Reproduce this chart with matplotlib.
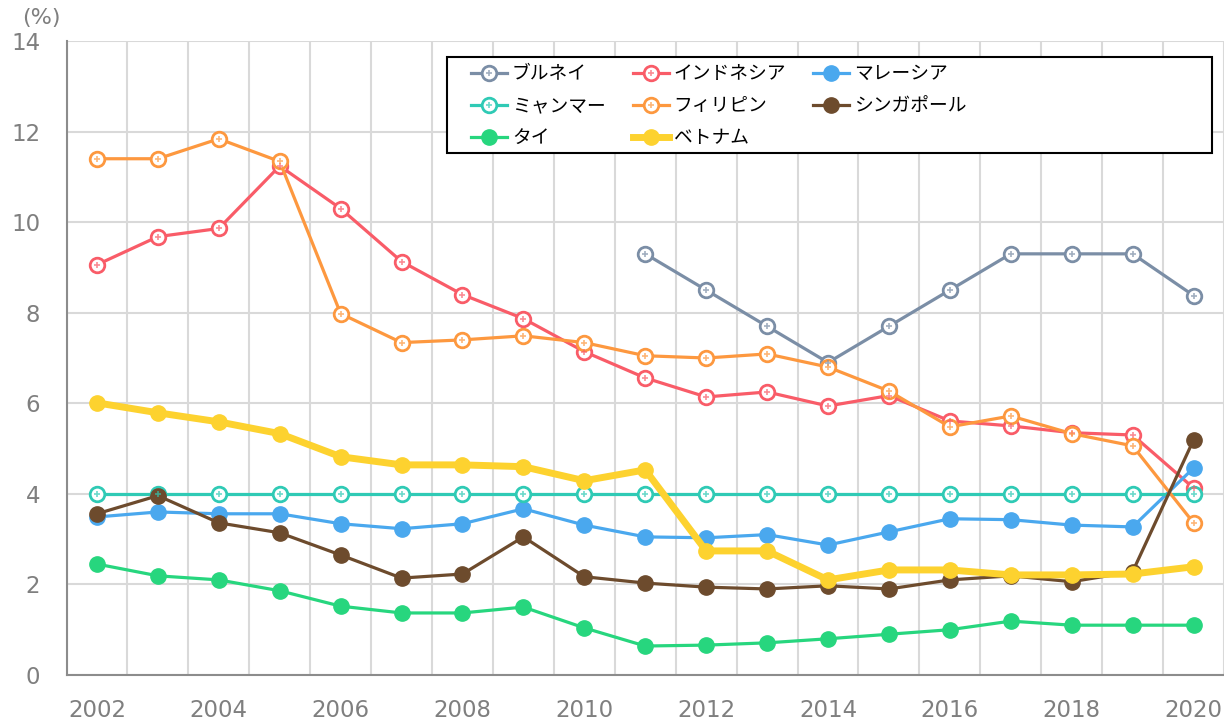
import matplotlib

matplotlib.use("Agg")
import matplotlib.pyplot as plt  # noqa: E402
import numpy as np  # noqa: E402
from matplotlib.legend_handler import HandlerTuple  # noqa: E402
from matplotlib.patches import Rectangle  # noqa: E402

years = list(range(2002, 2021))
tick_years = list(range(2002, 2021, 2))

nan = np.nan
brunei = [nan, nan, nan, nan, nan, nan, nan, nan, nan,
          9.3, 8.5, 7.7, 6.9, 7.7, 8.5, 9.3, 9.3, 9.3, 8.38]
indonesia = [9.06, 9.68, 9.86, 11.24, 10.3, 9.13, 8.4, 7.87, 7.14, 6.56,
             6.14, 6.25, 5.94, 6.17, 5.61, 5.5, 5.35, 5.3, 4.13]
malaysia = [3.49, 3.6, 3.56, 3.56, 3.34, 3.23, 3.34, 3.67, 3.31, 3.05,
            3.03, 3.1, 2.87, 3.16, 3.45, 3.43, 3.31, 3.27, 4.57]
myanmar = [4.0] * 19
philippines = [11.4, 11.4, 11.84, 11.34, 7.98, 7.34, 7.4, 7.49, 7.34, 7.05,
               7.0, 7.09, 6.8, 6.27, 5.48, 5.72, 5.33, 5.06, 3.36]
singapore = [3.56, 3.96, 3.36, 3.14, 2.65, 2.14, 2.23, 3.05, 2.17, 2.03,
             1.94, 1.9, 1.97, 1.9, 2.1, 2.19, 2.06, 2.28, 5.19]
thai = [2.45, 2.19, 2.1, 1.86, 1.52, 1.37, 1.37, 1.5, 1.04, 0.64,
        0.66, 0.71, 0.8, 0.9, 1.0, 1.19, 1.1, 1.1, 1.1]
vietnam = [6.01, 5.79, 5.59, 5.33, 4.82, 4.64, 4.64, 4.6, 4.29, 4.53,
           2.74, 2.74, 2.1, 2.32, 2.32, 2.21, 2.21, 2.23, 2.39]

# (label, values, colour, hollow marker, line width)
series = [
    ("ブルネイ", brunei, "#7b8ea6", True, 2.3),
    ("インドネシア", indonesia, "#f95c68", True, 2.3),
    ("マレーシア", malaysia, "#4aa8ee", False, 2.3),
    ("ミャンマー", myanmar, "#2fcab5", True, 2.3),
    ("フィリピン", philippines, "#fd983f", True, 2.3),
    ("シンガポール", singapore, "#6d4b2d", False, 2.3),
    ("タイ", thai, "#27d67e", False, 2.3),
    ("ベトナム", vietnam, "#fdd22f", False, 5.0),
]

GRAY = "#7f7f7f"
JP_FONT = ["Noto Sans CJK JP", "DejaVu Sans"]
W, H = 1224, 724

fig = plt.figure(figsize=(W / 100, H / 100), dpi=100)
ax = fig.add_axes([66.5 / W, 1 - 675 / H, (W - 66.5) / W, (675 - 41) / H])

x = np.arange(len(years))
handles = {}
for label, values, color, hollow, lw in series:
    y = np.array(values, dtype=float)
    if hollow:
        (line,) = ax.plot(x, y, color=color, lw=lw, marker="o", ms=10.5,
                          mfc="white", mec=color, mew=2, zorder=3)
        (dots,) = ax.plot(x, y, ls="none", marker="+", ms=5, mew=1.2,
                          color=color, alpha=0.7, zorder=4)
        handles[label] = (line, dots)
    else:
        (line,) = ax.plot(x, y, color=color, lw=lw, marker="o", ms=11,
                          mfc=color, mec=color, zorder=3)
        handles[label] = line

ax.set_xlim(-0.5, 18.475)
ax.set_ylim(0, 14)
ax.set_yticks(range(0, 15, 2))
ax.set_xticks([years.index(yr) for yr in tick_years])
ax.set_xticklabels([str(yr) for yr in tick_years])
ax.set_xticks(np.arange(-0.5, 19, 1), minor=True)

ax.grid(which="minor", axis="x", color="#d9d9d9", lw=1.5)
ax.grid(which="major", axis="y", color="#d9d9d9", lw=1.5)
ax.set_axisbelow(True)
ax.tick_params(which="both", length=0)
ax.tick_params(axis="both", labelsize=16.5, labelcolor=GRAY)
ax.tick_params(axis="y", pad=19)
ax.tick_params(axis="x", pad=17)

for side in ("top", "right"):
    ax.spines[side].set_visible(False)
for side in ("left", "bottom"):
    ax.spines[side].set_color("#8c8c8c")
    ax.spines[side].set_linewidth(1.5)

fig.text(41 / W, 1 - 18 / H, "(%)", fontsize=16, color=GRAY, ha="center", va="center")

# legend box drawn by hand so it matches the original frame
fig.patches.append(Rectangle((447 / W, 1 - 153 / H), (1212 - 447) / W, (153 - 57) / H,
                             transform=fig.transFigure, facecolor="white",
                             edgecolor="black", lw=1.5, zorder=5))

# legend fills by column, so reorder to read row by row like the original
order = ["ブルネイ", "ミャンマー", "タイ",
         "インドネシア", "フィリピン", "ベトナム",
         "マレーシア", "シンガポール"]
leg = fig.legend([handles[k] for k in order], order, ncol=3,
                 loc="upper left", bbox_to_anchor=(462 / W, 1 - 54 / H),
                 prop={"family": JP_FONT, "size": 13.5},
                 handler_map={tuple: HandlerTuple(ndivide=1)},
                 frameon=False, handlelength=1.92, columnspacing=1.45,
                 labelspacing=0.58, borderpad=0, handletextpad=0.25)
leg.set_zorder(6)

fig.savefig("out.png", dpi=100)
plt.close(fig)
